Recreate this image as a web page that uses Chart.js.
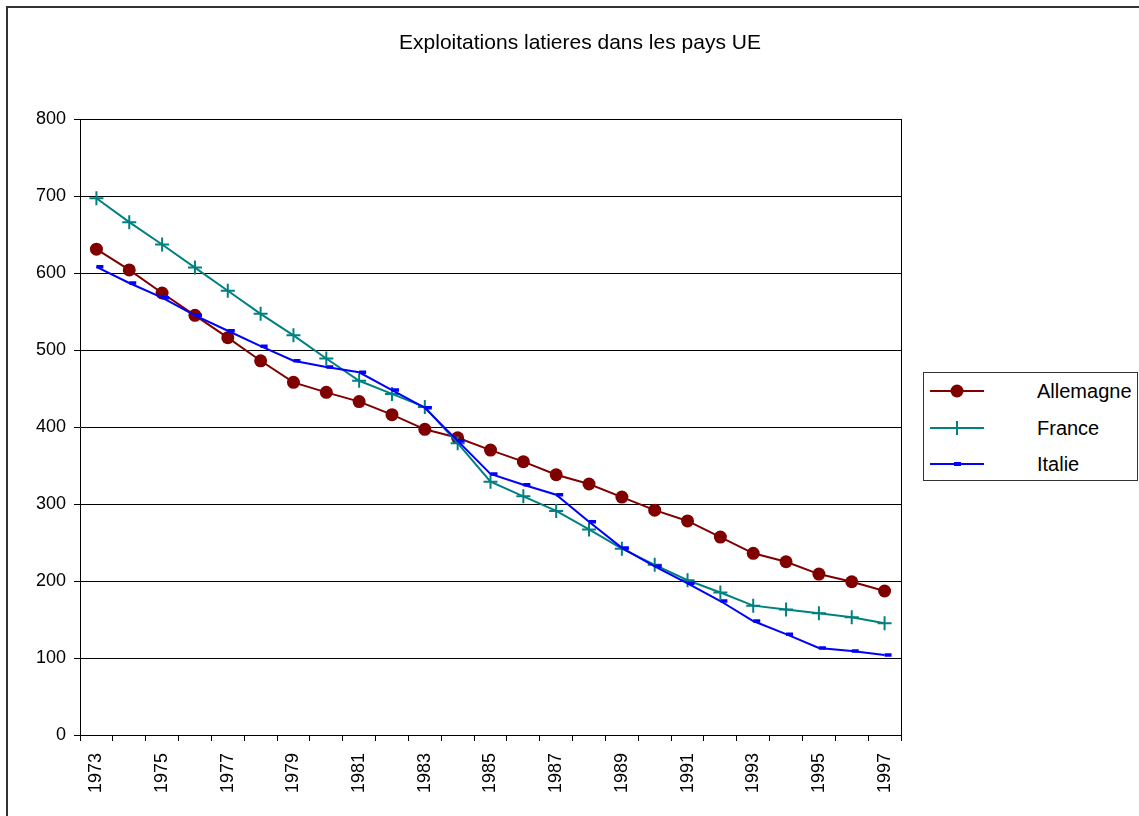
<!DOCTYPE html>
<html>
<head>
<meta charset="utf-8">
<script src="https://cdn.jsdelivr.net/npm/chart.js@4/dist/chart.umd.min.js"></script>
<style>
  html, body { margin:0; padding:0; background:#fff; }
  body { width:1139px; height:816px; position:relative; overflow:hidden; font-family:"Liberation Sans", Arial, sans-serif; }
  #frame { position:absolute; left:6px; top:6px; width:1200px; height:900px; border-top:2px solid #333; border-left:2px solid #333; }
  #c { position:absolute; left:0; top:0; }
  #title { position:absolute; left:0; width:1160px; top:30px; text-align:center; font-size:21px; color:#000; line-height:24px; }
  #legend { position:absolute; left:923px; top:372px; width:215px; height:109px; border:1px solid #333; box-sizing:border-box; background:#fff; }
  .item { position:absolute; left:0; height:30px; width:215px; }
  .item svg { position:absolute; left:6px; top:0; }
  .item span { position:absolute; left:113px; top:3px; font-size:20px; line-height:24px; color:#000; }
</style>
</head>
<body>
<div id="frame"></div>
<canvas id="c" width="1139" height="816"></canvas>
<div id="title">Exploitations latieres dans les pays UE</div>
<div id="legend"></div>
<script>
const years = ['1973','1974','1975','1976','1977','1978','1979','1980','1981','1982','1983','1984','1985','1986','1987','1988','1989','1990','1991','1992','1993','1994','1995','1996','1997'];
const allemagne = [631,604,574,545,516,486,458,445,433,416,397,386,370,355,338,326,309,292,278,257,236,225,209,199,187];
const france = [697,666,637,607,577,547,519,489,460,443,426,379,329,310,291,267,242,221,201,185,168,163,158,153,145];
const italie = [608,587,568,545,525,505,486,478,471,448,425,382,339,325,312,277,243,219,197,174,148,131,113,109,104];
const seriesNames = ['Allemagne','France','Italie'];
const yTicks = [0,100,200,300,400,500,600,700,800];

const colors = ['#800000','#008080','#0000FF'];

const rightBorder = {
  id:'rightBorder',
  afterDraw(chart){
    const a = chart.chartArea, ctx = chart.ctx;
    ctx.save();
    ctx.strokeStyle = '#000';
    ctx.lineWidth = 1;
    ctx.beginPath();
    ctx.moveTo(Math.round(a.right)+0.5, a.top);
    ctx.lineTo(Math.round(a.right)+0.5, a.bottom);
    ctx.stroke();
    ctx.restore();
  }
};

new Chart(document.getElementById('c'), {
  type:'line',
  data:{
    labels: years,
    datasets:[
      { label:seriesNames[0], data:allemagne, borderColor:colors[0], backgroundColor:colors[0], borderWidth:2,
        pointStyle:'circle', pointRadius:6.5, pointBorderWidth:0, pointBackgroundColor:colors[0], order:2, tension:0 },
      { label:seriesNames[1], data:france, borderColor:colors[1], backgroundColor:colors[1], borderWidth:2,
        pointStyle:'cross', pointRadius:7, pointBorderWidth:2, pointBorderColor:colors[1], order:1, tension:0 },
      { label:seriesNames[2], data:italie, borderColor:colors[2], backgroundColor:colors[2], borderWidth:2,
        pointStyle:'dash', pointRadius:7, pointBorderWidth:3.5, pointBorderColor:colors[2], order:0, tension:0 }
    ]
  },
  options:{
    responsive:false,
    animation:false,
    devicePixelRatio:1,
    layout:{ padding:{ left:0, right:238, top:119, bottom:0 } },
    plugins:{ legend:{display:false}, title:{display:false}, tooltip:{enabled:false} },
    scales:{
      x:{
        type:'category',
        offset:true,
        grid:{ display:true, offset:true, drawOnChartArea:false, drawTicks:true, tickLength:6, color:'#000', lineWidth:1 },
        border:{ display:true, color:'#000', width:1 },
        ticks:{ autoSkip:false, maxRotation:90, minRotation:90, padding:12, color:'#000',
          font:{ family:'"Liberation Sans", Arial, sans-serif', size:18 },
          callback:function(v, i){ return i % 2 === 0 ? this.getLabelForValue(v) : ''; } },
        afterFit(scale){ scale.height = 81; }
      },
      y:{
        min:0, max:800,
        afterBuildTicks(scale){ scale.ticks = yTicks.map(v => ({value:v})); },
        grid:{ color:'#000', lineWidth:1, drawTicks:true, tickLength:6 },
        border:{ display:true, color:'#000', width:1 },
        ticks:{ color:'#000', padding:8, font:{ family:'"Liberation Sans", Arial, sans-serif', size:18 } },
        afterFit(scale){ scale.width = 80; }
      }
    }
  },
  plugins:[rightBorder]
});

// HTML legend
const legend = document.getElementById('legend');
const markers = [
  '<circle cx="27" cy="15" r="6.5" fill="#800000"/>',
  '<line x1="27" y1="8" x2="27" y2="22" stroke="#008080" stroke-width="2"/>',
  '<line x1="24" y1="15" x2="31" y2="15" stroke="#0000FF" stroke-width="4"/>'
];
const rowTops = [3, 40, 76];
seriesNames.forEach((name, i) => {
  const d = document.createElement('div');
  d.className = 'item';
  d.style.top = rowTops[i] + 'px';
  d.innerHTML = '<svg width="60" height="30"><line x1="0" y1="15" x2="54" y2="15" stroke="' + colors[i] + '" stroke-width="2"/>' + markers[i] + '</svg><span>' + name + '</span>';
  legend.appendChild(d);
});
</script>
</body>
</html>
